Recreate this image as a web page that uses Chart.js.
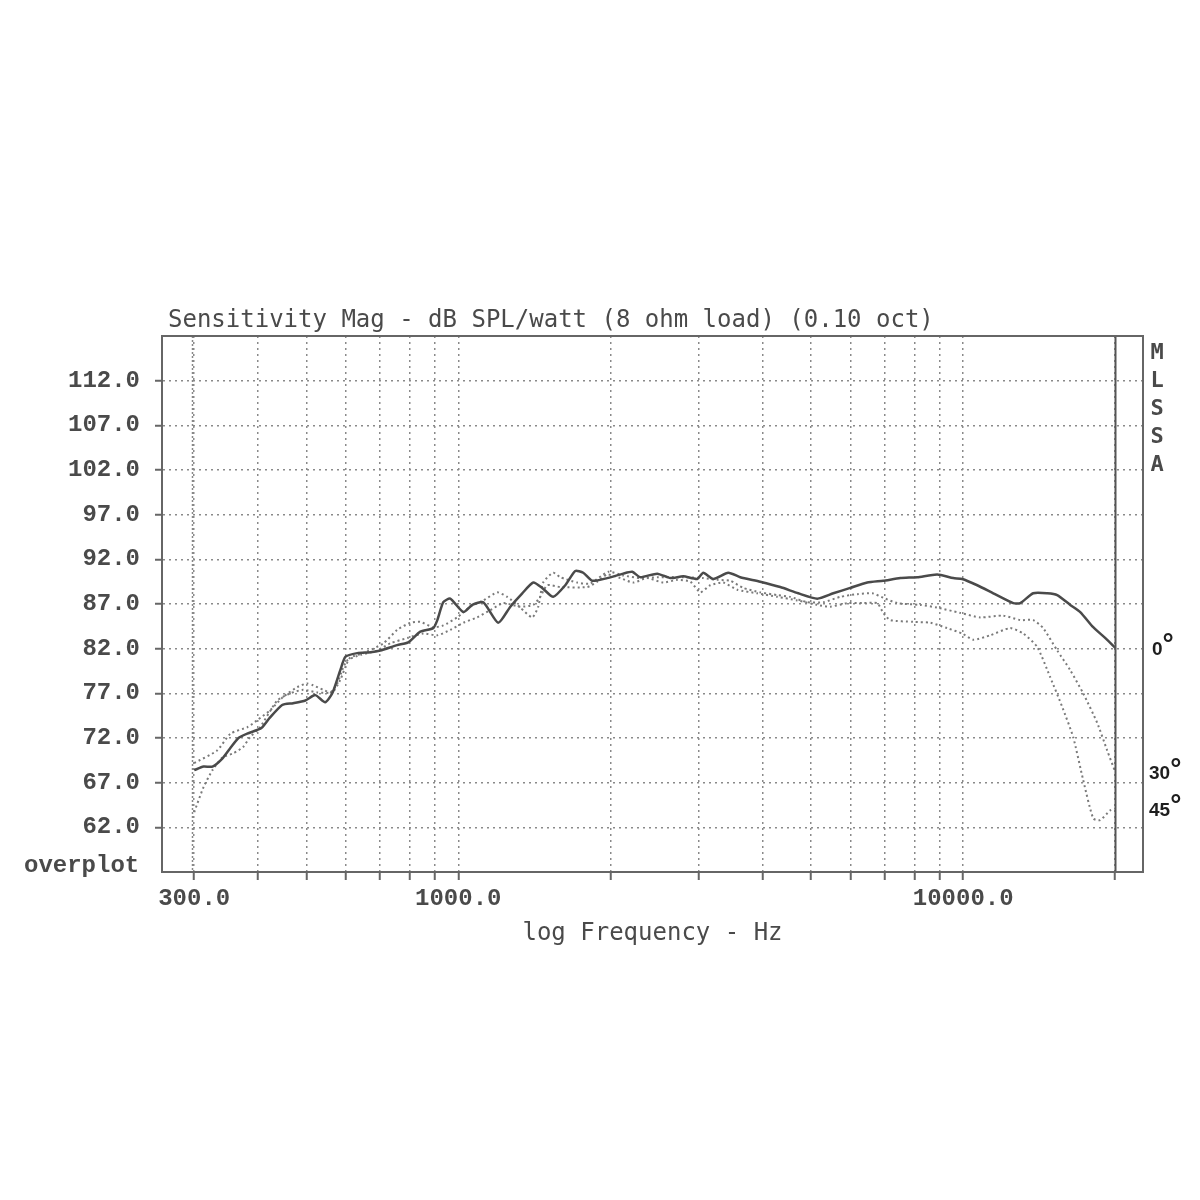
<!DOCTYPE html>
<html>
<head>
<meta charset="utf-8">
<title>Sensitivity Mag</title>
<script src="https://cdn.jsdelivr.net/npm/chart.js@4.4.1/dist/chart.umd.min.js"></script>
<style>
  html, body { margin: 0; padding: 0; background: #fff; }
  canvas { display: block; }
</style>
</head>
<body>
<canvas id="chart" width="1200" height="1200"></canvas>
<script>
// axis ticks
const freqTicks = [300, 400, 500, 600, 700, 800, 900, 1000, 2000, 3000, 4000, 5000, 6000, 7000, 8000, 9000, 10000, 20000];
const labelledFreqs = [300, 1000, 10000];
const splTicks = [62, 67, 72, 77, 82, 87, 92, 97, 102, 107, 112];

// 0 degree (solid)
const freq0 = [300, 313, 326, 341, 354, 367, 382, 400, 409, 424, 448, 471, 498, 521, 545, 563, 584, 598, 631, 670,
    701, 757, 796, 841, 892, 909, 934, 964, 1023, 1066, 1121, 1200, 1268, 1339, 1408, 1466, 1542, 1629, 1705, 1768,
    1842, 1972, 2122, 2211, 2293, 2478, 2630, 2790, 2974, 3056, 3199, 3425, 3618, 3963, 4342, 4713, 5140, 5530, 5975, 6456,
    6945, 7505, 8108, 8882, 9555, 9954, 10660, 11470, 12560, 12970, 13760, 14670, 15350, 16290, 17050, 18090, 19100, 20000];
const spl0 = [68.4, 68.8, 68.8, 69.7, 70.9, 72.0, 72.5, 72.9, 73.2, 74.3, 75.7, 75.9, 76.2, 76.8, 76.0, 77.0, 79.6, 81.1, 81.5, 81.6,
    81.8, 82.4, 82.7, 83.9, 84.3, 85.2, 87.2, 87.6, 86.1, 86.9, 87.2, 84.9, 86.7, 88.2, 89.4, 88.8, 87.8, 89.1, 90.7, 90.5,
    89.6, 89.9, 90.4, 90.6, 90.0, 90.4, 89.9, 90.1, 89.8, 90.5, 89.8, 90.5, 90.0, 89.5, 88.9, 88.2, 87.6, 88.2, 88.8, 89.4,
    89.6, 89.9, 90.0, 90.3, 89.9, 89.8, 89.1, 88.2, 87.1, 87.1, 88.2, 88.2, 88.0, 86.9, 86.1, 84.4, 83.2, 82.1];

// 30 degree (dotted)
const freq30 = [300, 333, 354, 382, 400, 424, 450, 480, 502, 516, 540, 563, 584, 598, 611, 649, 711, 757, 804, 841,
    892, 934, 995, 1056, 1121, 1195, 1250, 1327, 1401, 1440, 1473, 1542, 1592, 1720, 1826, 1982, 2122, 2293, 2478, 2790,
    3056, 3258, 3457, 3668, 3963, 4283, 4544, 4911, 5283, 5709, 6169, 6605, 6945, 7403, 8219, 8882, 9865, 10810, 12000, 12970,
    13760, 14400, 15350, 16290, 17280, 18420, 19280, 20000];
const spl30 = [69.2, 70.6, 72.5, 73.2, 74.0, 75.1, 76.6, 77.7, 78.1, 77.9, 77.4, 77.1, 78.5, 80.0, 81.0, 81.5, 82.6, 84.1, 84.9, 85.0,
    84.4, 84.6, 85.5, 86.7, 87.4, 88.3, 87.8, 86.6, 85.5, 86.7, 89.4, 90.5, 90.0, 89.4, 89.3, 90.6, 90.2, 89.9, 90.0, 90.0,
    89.9, 89.7, 89.6, 88.8, 88.3, 88.0, 87.8, 87.2, 87.2, 87.8, 88.1, 88.2, 87.7, 87.1, 86.9, 86.6, 86.0, 85.5, 85.7, 85.2,
    85.2, 84.3, 81.8, 79.6, 77.0, 73.7, 70.6, 68.2];

// 45 degree (dotted)
const freq45 = [300, 313, 326, 341, 359, 375, 387, 405, 438, 465, 493, 526, 558, 576, 589, 603, 640, 691, 734, 793,
    853, 909, 964, 1023, 1090, 1157, 1228, 1327, 1408, 1453, 1500, 1592, 1801, 1885, 1972, 2094, 2221, 2367, 2547, 2715,
    2881, 3015, 3155, 3348, 3569, 3909, 4283, 4691, 5140, 5454, 5894, 6340, 6757, 6945, 7170, 7962, 8603, 9297, 9954, 10470,
    11310, 12390, 13150, 14010, 14870, 15700, 16510, 17280, 18090, 18670, 19550, 20000];
const spl45 = [63.7, 66.5, 68.4, 69.8, 70.3, 71.0, 72.1, 73.2, 76.2, 77.0, 77.4, 77.1, 77.1, 78.1, 79.6, 80.7, 81.3, 81.8, 82.6, 83.2,
    83.7, 83.5, 84.1, 84.9, 85.5, 86.3, 87.1, 86.7, 86.9, 87.8, 89.1, 88.9, 88.9, 89.5, 90.3, 89.9, 89.4, 89.9, 89.4, 89.7,
    89.5, 88.3, 89.1, 89.4, 88.6, 88.2, 87.8, 87.4, 86.9, 86.7, 87.1, 87.1, 87.1, 86.0, 85.2, 85.0, 84.9, 84.3, 83.7, 83.0,
    83.5, 84.3, 83.7, 82.2, 78.8, 75.5, 72.1, 67.3, 63.0, 62.8, 63.9, 64.1];

const curveLabels = ['0', '30', '45'];

const toPoints = (fs, vs) => fs.map((f, i) => ({ x: f, y: vs[i] }));

// frame, title and side texts
const framePlugin = {
    id: 'frame',
    afterDraw(chart) {
        const ctx = chart.ctx;
        const area = chart.chartArea;
        const xs = chart.scales.x;
        const ys = chart.scales.y;
        ctx.save();

        // solid line at 20 kHz
        const x20k = Math.round(xs.getPixelForValue(20000)) + 0.5;
        ctx.strokeStyle = '#555';
        ctx.lineWidth = 2;
        ctx.beginPath();
        ctx.moveTo(x20k, area.top);
        ctx.lineTo(x20k, area.bottom);
        ctx.stroke();

        // denser dotted line at 300 Hz
        const x300 = Math.round(xs.getPixelForValue(300));
        ctx.strokeStyle = '#888';
        ctx.lineWidth = 1.5;
        ctx.setLineDash([2, 2]);
        ctx.beginPath();
        ctx.moveTo(x300 - 1.5, area.top);
        ctx.lineTo(x300 - 1.5, area.bottom);
        ctx.stroke();
        ctx.setLineDash([]);

        // box
        ctx.strokeStyle = '#666';
        ctx.lineWidth = 2;
        ctx.strokeRect(area.left, area.top, area.right - area.left, area.bottom - area.top);

        ctx.fillStyle = '#4a4a4a';
        ctx.textBaseline = 'middle';

        // title
        ctx.font = '24px "DejaVu Sans Mono"';
        ctx.textAlign = 'left';
        ctx.fillText('Sensitivity Mag - dB SPL/watt (8 ohm load) (0.10 oct)', 168, 321);

        // x axis title
        ctx.textAlign = 'center';
        ctx.fillText('log Frequency - Hz', (area.left + area.right) / 2, 934);

        // overplot
        ctx.font = 'bold 24px "Liberation Mono"';
        ctx.textAlign = 'left';
        ctx.fillText('overplot', 24, 866);

        // MLSSA
        ctx.font = 'bold 22px "DejaVu Sans Mono"';
        ctx.textAlign = 'center';
        'MLSSA'.split('').forEach((ch, i) => {
            ctx.fillText(ch, 1157, 353 + i * 28);
        });

        // angle labels at curve ends
        const ends = [spl0[spl0.length - 1], spl30[spl30.length - 1], spl45[spl45.length - 1]];
        ctx.textAlign = 'left';
        ctx.fillStyle = '#1e1e1e';
        curveLabels.forEach((lab, i) => {
            const y = ys.getPixelForValue(ends[i]);
            const x0 = lab.length === 1 ? 1152 : 1149;
            ctx.font = 'bold 19px "Liberation Sans"';
            ctx.fillText(lab, x0, y + 2);
            const w = ctx.measureText(lab).width;
            ctx.font = 'bold 28px "Liberation Sans"';
            ctx.fillText('\u00b0', x0 + w, y - 2);
        });

        ctx.restore();
    }
};

const bgPlugin = {
    id: 'bg',
    beforeDraw(chart) {
        const ctx = chart.ctx;
        ctx.save();
        ctx.fillStyle = '#fff';
        ctx.fillRect(0, 0, chart.width, chart.height);
        ctx.restore();
    }
};

const tickFont = { family: '"Liberation Mono"', size: 24, weight: 'bold' };

new Chart(document.getElementById('chart'), {
    type: 'line',
    data: {
        datasets: [
            {
                label: '0',
                data: toPoints(freq0, spl0),
                borderColor: '#4a4a4a',
                borderWidth: 2.5,
                pointRadius: 0,
                tension: 0.2
            },
            {
                label: '30',
                data: toPoints(freq30, spl30),
                borderColor: '#7a7a7a',
                borderWidth: 2,
                borderDash: [2, 3],
                pointRadius: 0,
                tension: 0.2
            },
            {
                label: '45',
                data: toPoints(freq45, spl45),
                borderColor: '#7a7a7a',
                borderWidth: 2,
                borderDash: [2, 3],
                pointRadius: 0,
                tension: 0.2
            }
        ]
    },
    options: {
        responsive: false,
        animation: false,
        devicePixelRatio: 1,
        layout: { padding: { top: 336, right: 57, left: 0, bottom: 0 } },
        plugins: {
            legend: { display: false },
            tooltip: { enabled: false },
            title: { display: false }
        },
        scales: {
            x: {
                type: 'logarithmic',
                min: 259,
                max: 22700,
                afterBuildTicks: scale => { scale.ticks = freqTicks.map(v => ({ value: v })); },
                afterFit: scale => { scale.height = 328; },
                ticks: {
                    autoSkip: false,
                    maxRotation: 0,
                    padding: 5,
                    color: '#4a4a4a',
                    font: tickFont,
                    callback: v => labelledFreqs.includes(v) ? v.toFixed(1) : ''
                },
                grid: {
                    color: '#8a8a8a',
                    lineWidth: 1.5,
                    tickColor: '#666',
                    tickWidth: 2,
                    tickLength: 8
                },
                border: { display: true, color: '#666', width: 2, dash: [2, 4] }
            },
            y: {
                min: 57,
                max: 117,
                afterBuildTicks: scale => { scale.ticks = splTicks.map(v => ({ value: v })); },
                afterFit: scale => { scale.width = 162; },
                ticks: {
                    padding: 15,
                    color: '#4a4a4a',
                    font: tickFont,
                    callback: v => v.toFixed(1)
                },
                grid: {
                    color: '#8a8a8a',
                    lineWidth: 1.5,
                    tickColor: '#666',
                    tickWidth: 2,
                    tickLength: 7
                },
                border: { display: true, color: '#666', width: 2, dash: [2, 4] }
            }
        }
    },
    plugins: [bgPlugin, framePlugin]
});
</script>
</body>
</html>
